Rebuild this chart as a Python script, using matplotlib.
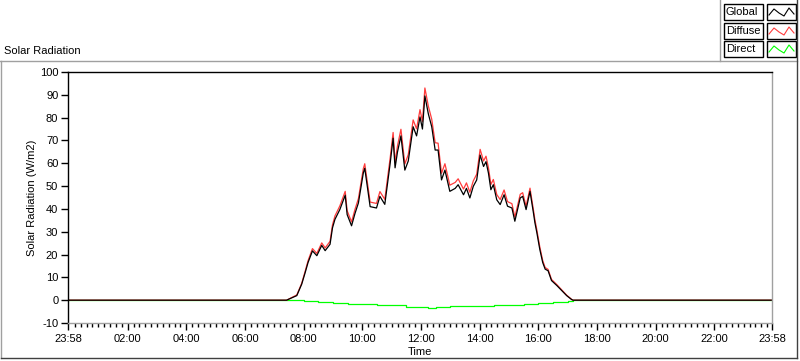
import matplotlib
matplotlib.use("Agg")
import matplotlib.pyplot as plt
from matplotlib.patches import Rectangle
from matplotlib.lines import Line2D

# ---------------- data ----------------
day_times = ["07:25","07:46","07:56","08:03","08:09","08:18","08:27","08:37","08:44","08:54",
             "08:59","09:04","09:14","09:25","09:29","09:38","09:45","09:52","10:02","10:05",
             "10:16","10:29","10:36","10:46","10:57","11:03","11:07","11:12","11:19","11:27",
             "11:34","11:44","11:51","11:58","12:03","12:08","12:15","12:22","12:29","12:35",
             "12:42","12:49","12:59","13:10","13:16","13:27","13:33","13:40","13:47","13:54",
             "14:01","14:08","14:13","14:18","14:23","14:28","14:35","14:42","14:50","14:57",
             "15:06","15:12","15:23","15:28","15:35","15:43","15:50","15:53","15:57","16:03",
             "16:09","16:14","16:20","16:27","16:38","16:48","16:58","17:08","17:11"]
global_vals = [0, 2, 7, 12, 16.5, 21.6, 19.5, 24, 21.7, 24.5,
               31.7, 35.4, 39.7, 46, 37.5, 32.6, 38, 42.6, 55.7, 57.8,
               41, 40.4, 45.5, 42, 60, 71, 58, 65, 72, 57,
               61, 76, 72, 80.3, 75, 89.5, 81.7, 76, 65.8, 65.8,
               52.7, 57, 47.7, 49, 50.6, 46.2, 49, 44.8, 49.9, 52.7,
               63.6, 58.6, 60.7, 55.7, 48.4, 50.6, 44, 41.9, 46.2, 41.2,
               40.4, 34.6, 44.8, 45.5, 39.7, 47.7, 38.3, 34, 29.6, 22.3,
               16.5, 13.6, 12.9, 8.6, 6.4, 4.2, 2, 0.3, 0]
diffuse_vals = [0, 2.3, 7.4, 12.6, 17.3, 22.6, 20.5, 25.1, 22.9, 25.8,
                33, 36.9, 41.3, 47.7, 39.2, 34.3, 39.8, 44.5, 57.6, 59.8,
                43, 42.4, 47.6, 44.2, 62.4, 73.5, 60.5, 67.7, 74.9, 59.7,
                63.8, 79, 75.1, 83.5, 78.3, 93, 85.1, 79.3, 69, 68.8,
                55.6, 59.8, 50.4, 51.6, 53.2, 48.7, 51.4, 47.3, 52.3, 55.2,
                66.1, 61, 63.1, 58.1, 50.7, 52.9, 46.3, 44.1, 48.3, 43.2,
                42.3, 36.4, 46.4, 47.1, 41.2, 49.1, 39.6, 35.3, 30.8, 23.4,
                17.4, 14.3, 13.5, 9.1, 6.8, 4.5, 2.2, 0.4, 0]
direct_times = ["07:25","08:00","08:30","09:00","09:30","10:00","10:30","11:00","11:30","12:00",
                "12:15","12:30","13:00","13:30","14:00","14:30","15:00","15:30","16:00","16:30",
                "17:00","17:11"]
direct_vals = [0, -0.3, -0.8, -1.2, -1.6, -1.8, -2.0, -2.3, -2.8, -3.2,
               -3.4, -3.0, -2.6, -2.4, -2.5, -2.3, -2.0, -1.6, -1.3, -0.6,
               -0.2, 0]
night_value = 0
x_start_label = "23:58"
x_end_label = "23:58"
major_labels = ["02:00","04:00","06:00","08:00","10:00","12:00","14:00","16:00","18:00","20:00","22:00"]
y_ticks = [-10, 0, 10, 20, 30, 40, 50, 60, 70, 80, 90, 100]
legend_names = ["Global", "Diffuse", "Direct"]

def to_min(s):
    h, m = s.split(":")
    return int(h) * 60 + int(m)

x_lo = to_min(x_start_label) - 1440   # previous day 23:58
x_hi = to_min(x_end_label)

def full_series(times, vals):
    xs = [x_lo] + [to_min(t) for t in times] + [x_hi]
    ys = [night_value] + list(vals) + [night_value]
    return xs, ys

# ---------------- figure ----------------
plt.rcParams['font.family'] = ['Liberation Sans', 'DejaVu Sans']
fs = 8
W, H = 800, 361
fig = plt.figure(figsize=(8, 3.61), dpi=100)
fig.patch.set_facecolor('white')

def fx(px): return px / W
def fy(py): return 1 - py / H

# frame lines
gray = '#a0a0a0'
fig.add_artist(Line2D([fx(0), fx(797)], [fy(61), fy(61)], color=gray, lw=1))
fig.add_artist(Line2D([fx(720), fx(720)], [fy(0), fy(61)], color=gray, lw=1))
fig.add_artist(Line2D([fx(1), fx(1)], [fy(61), fy(358)], color=gray, lw=1))
fig.add_artist(Line2D([fx(797), fx(797)], [fy(0), fy(358)], color='#404040', lw=1))
fig.add_artist(Line2D([fx(1), fx(797)], [fy(358), fy(358)], color='#404040', lw=1))

fig.text(fx(4), fy(51), "Solar Radiation", fontsize=fs, ha='left', va='center')

# legend
colors = ['black', '#ff3c3c', '#00ff00']
rows = [(4, 20), (23, 39), (41, 57)]
for name, col, (t, b) in zip(legend_names, colors, rows):
    fig.add_artist(Rectangle((fx(724), fy(b)), fx(763) - fx(724), fy(t) - fy(b),
                             facecolor='white', edgecolor='black', lw=1))
    fig.text(fx(726), fy((t + b) / 2), name, fontsize=fs, ha='left', va='center')
    fig.add_artist(Rectangle((fx(767), fy(b)), fx(796) - fx(767), fy(t) - fy(b),
                             facecolor='white', edgecolor='black', lw=1))
    zx = [769, 774, 779, 784, 789, 794]
    zy = [b - 5, t + 5, b - 7, b - 4, t + 4, b - 6]
    fig.add_artist(Line2D([fx(v) for v in zx], [fy(v) for v in zy], color=col, lw=0.8))

ax = fig.add_axes([fx(68), fy(323), fx(772) - fx(68), fy(72) - fy(323)])
ax.set_facecolor('white')

dx, dy = full_series(direct_times, direct_vals)
fx_, fy_ = full_series(day_times, diffuse_vals)
gx, gy = full_series(day_times, global_vals)
ax.plot(dx, dy, color='#00ff00', lw=0.9, drawstyle='steps-post')
ax.plot(fx_, fy_, color='#ff3c3c', lw=0.9)
ax.plot(gx, gy, color='black', lw=0.9)

ax.set_xlim(x_lo, x_hi)
ax.set_ylim(-10, 100)
ax.set_yticks(y_ticks)
ax.set_yticklabels([str(v) for v in y_ticks], fontsize=fs)

major_pos = [x_lo] + [to_min(s) for s in major_labels] + [x_hi]
ax.set_xticks(major_pos)
ax.set_xticklabels([x_start_label] + major_labels + [x_end_label], fontsize=fs)
ax.set_xticks([m for m in range(12, 1440, 12) if m % 120 != 0], minor=True)
ax.tick_params(axis='x', which='major', length=5, width=1, direction='out', pad=3)
ax.tick_params(axis='x', which='minor', length=3, width=1, direction='out')
ax.tick_params(axis='y', which='major', length=5, width=1, direction='out', pad=2)

for s in ['left', 'top']:
    ax.spines[s].set_color('black')
    ax.spines[s].set_linewidth(1)
for s in ['right', 'bottom']:
    ax.spines[s].set_color(gray)
    ax.spines[s].set_linewidth(1)

ax.set_xlabel("Time", fontsize=fs, labelpad=2)
ax.set_ylabel("Solar Radiation (W/m2)", fontsize=fs, labelpad=2)

fig.savefig("out.png", dpi=100, facecolor='white')
